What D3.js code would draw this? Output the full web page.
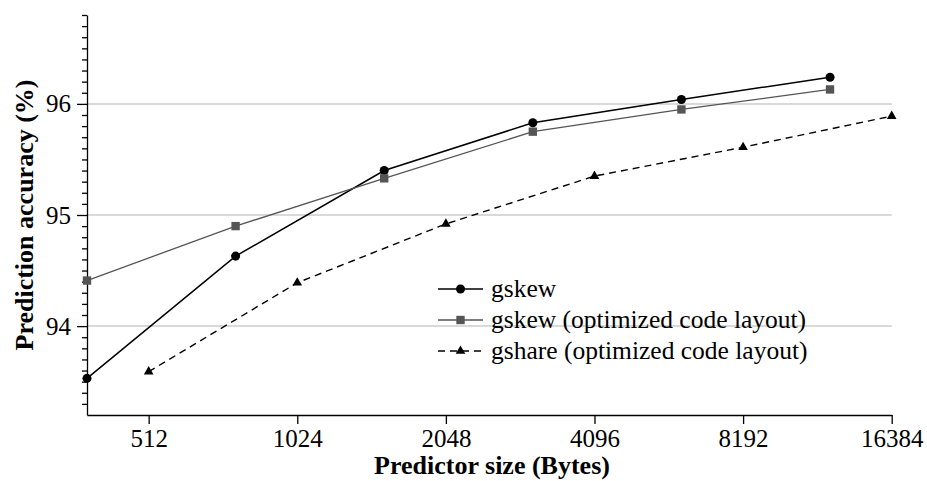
<!DOCTYPE html>
<html lang="en">
<head>
  <meta charset="UTF-8">
  <title>Prediction accuracy vs predictor size</title>
<style>
body{ margin: 0; background: #fff; }
svg{ display: block; }
svg text{ font-family: "Liberation Serif", "Times New Roman", Times, serif; fill: #000; }
.axis text{ font-size: 25px; }
.axis path, .axis line{ stroke: #000; stroke-width: 1.3px; }
.grid line{ stroke: #d9d9d9; stroke-width: 2px; }
.title{ font-size: 26px; font-weight: bold; }
.legend text{ font-size: 25.5px; }
</style>
</head>
<body>
<script src="https://cdnjs.cloudflare.com/ajax/libs/d3/7.8.5/d3.min.js"></script>
<script>
// gskew sizes are 3*2^n bytes, gshare sizes 2^n bytes
var gskewSizes = [384, 768, 1536, 3072, 6144, 12288];
var gshareSizes = [512, 1024, 2048, 4096, 8192, 16384];

var gskew = [93.53, 94.63, 95.40, 95.83, 96.04, 96.24];
var gskewOpt = [94.41, 94.90, 95.33, 95.75, 95.95, 96.13];
var gshareOpt = [93.59, 94.39, 94.92, 95.35, 95.61, 95.89];

var xTicks = [512, 1024, 2048, 4096, 8192, 16384];
var yTicks = [94, 95, 96];
var seriesNames = ["gskew", "gskew (optimized code layout)", "gshare (optimized code layout)"];

(function () {
  var width = 927, height = 481;
  var left = 87, right = 891.7, top = 15, bottom = 415;

  var svg = d3.select("body").append("svg")
    .attr("width", width)
    .attr("height", height);

  var x = d3.scaleLog().base(2)
    .domain([384, 16384])
    .range([left, right]);

  var y = d3.scaleLinear()
    .domain([93.2, 96.8])
    .range([bottom, top]);

  // horizontal grid lines
  svg.append("g").attr("class", "grid")
    .selectAll("line").data(yTicks).enter().append("line")
    .attr("x1", left).attr("x2", right)
    .attr("y1", function (d) { return y(d); })
    .attr("y2", function (d) { return y(d); });

  // minor y ticks every 0.1
  var minor = d3.range(933, 969).map(function (d) { return d / 10; })
    .filter(function (d) { return Math.abs(d - Math.round(d)) > 0.01; });

  svg.append("g").attr("class", "axis")
    .attr("transform", "translate(" + left + ",0)")
    .call(d3.axisLeft(y).tickValues(minor).tickSize(5).tickFormat(""))
    .select(".domain").remove();

  svg.append("g").attr("class", "axis")
    .attr("transform", "translate(" + left + ",0)")
    .call(d3.axisLeft(y).tickValues(yTicks).tickSize(10).tickSizeOuter(0).tickPadding(6).tickFormat(d3.format("d")));

  svg.append("g").attr("class", "axis")
    .attr("transform", "translate(0," + bottom + ")")
    .call(d3.axisBottom(x).tickValues(xTicks).tickSize(9).tickSizeOuter(0).tickPadding(5).tickFormat(d3.format("d")));

  // strip d3's default sans-serif so the page font applies
  svg.selectAll(".axis").attr("font-family", null).attr("font-size", null);

  // axis titles
  svg.append("text").attr("class", "title")
    .attr("text-anchor", "middle")
    .attr("x", 492).attr("y", 474)
    .text("Predictor size (Bytes)");

  svg.append("text").attr("class", "title")
    .attr("text-anchor", "middle")
    .attr("transform", "translate(33,215) rotate(-90)")
    .text("Prediction accuracy (%)");

  // series
  var series = [
    { name: seriesNames[0], xs: gskewSizes, ys: gskew, color: "#000", width: 1.5, dash: null, symbol: d3.symbolCircle, size: 64 },
    { name: seriesNames[1], xs: gskewSizes, ys: gskewOpt, color: "#555", width: 1.3, dash: null, symbol: d3.symbolSquare, size: 70 },
    { name: seriesNames[2], xs: gshareSizes, ys: gshareOpt, color: "#000", width: 1.4, dash: "7,5", symbol: d3.symbolTriangle, size: 40 }
  ];

  var line = d3.line()
    .x(function (d) { return x(d[0]); })
    .y(function (d) { return y(d[1]); });

  series.forEach(function (s) {
    var pts = d3.zip(s.xs, s.ys);
    svg.append("path")
      .attr("d", line(pts))
      .attr("fill", "none")
      .attr("stroke", s.color)
      .attr("stroke-width", s.width)
      .attr("stroke-dasharray", s.dash);

    svg.append("g").selectAll("path").data(pts).enter().append("path")
      .attr("d", d3.symbol().type(s.symbol).size(s.size))
      .attr("fill", s.color)
      .attr("transform", function (d) { return "translate(" + x(d[0]) + "," + y(d[1]) + ")"; });
  });

  // legend
  var legend = svg.append("g").attr("class", "legend")
    .selectAll("g").data(series).enter().append("g")
    .attr("transform", function (d, i) { return "translate(438," + (289 + i * 31) + ")"; });

  legend.append("line")
    .attr("x1", 0).attr("x2", 45)
    .attr("stroke", function (d) { return d.color; })
    .attr("stroke-width", function (d) { return d.width; })
    .attr("stroke-dasharray", function (d) { return d.dash; });

  legend.append("path")
    .attr("transform", "translate(22.5,0)")
    .attr("d", function (d) { return d3.symbol().type(d.symbol).size(d.size)(); })
    .attr("fill", function (d) { return d.color; });

  legend.append("text")
    .attr("x", 53).attr("y", 8)
    .text(function (d) { return d.name; });
})();
</script>
</body>
</html>
